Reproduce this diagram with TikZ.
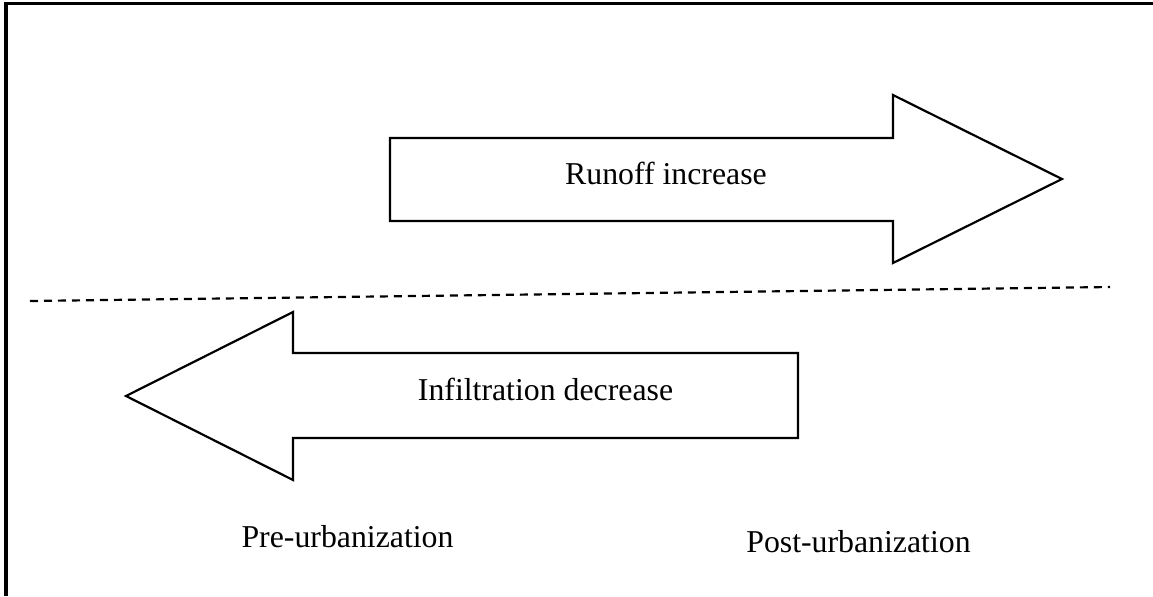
\documentclass[tikz,border=0pt]{standalone}
\usepackage{fontspec}
\setmainfont{Liberation Serif}
\begin{document}
\begin{tikzpicture}[x=0.5pt,y=-0.5pt]
  \tikzset{
      every node/.append style = {
          font = \fontsize{15.9}{19}\selectfont,
          inner sep = 0pt
      },
      frame/.style = {
          line width = 1.6pt
      },
      divider/.style = {
          line width = 1.1pt,
          dash pattern = on 4pt off 3pt
      },
      fatarrow/.style = {
          draw,
          line width = 1.1pt,
          line join = miter
      },
      caption/.style = {
          anchor = base
      }
  }
  \useasboundingbox (0,0) rectangle (1153,596);
  \draw[frame] (6,596) -- (6,3.5) -- (1153,3.5);
  \draw[divider] (30,301) -- (1110,287);
  \draw[fatarrow] (390,138) -- (893,138) -- (893,95) -- (1062,179)
      -- (893,263) -- (893,221) -- (390,221) -- cycle;
  \draw[fatarrow] (798,353) -- (293,353) -- (293,312) -- (126,396)
      -- (293,480) -- (293,438) -- (798,438) -- cycle;
  \node[caption] (runoff) at (666,184) {Runoff increase};
  \node[caption] (infil) at (545.5,400) {Infiltration decrease};
  \node[caption] (pre) at (347.5,547) {Pre-urbanization};
  \node[caption] (post) at (858.5,552) {Post-urbanization};
\end{tikzpicture}
\end{document}
